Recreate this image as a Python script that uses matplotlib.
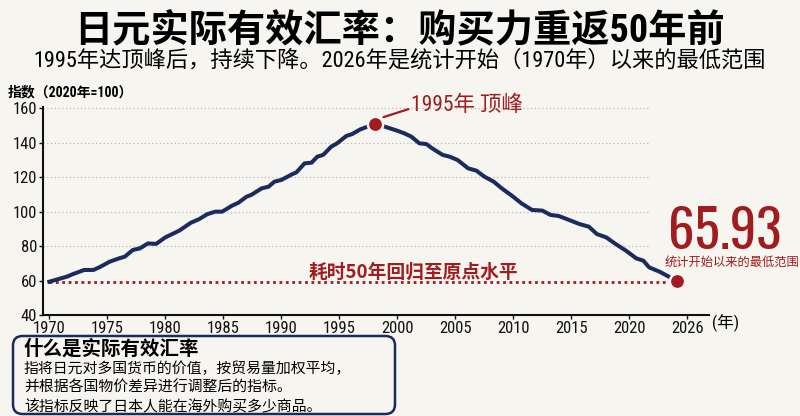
import matplotlib
matplotlib.use('Agg')
import matplotlib.pyplot as plt
from matplotlib import font_manager
from matplotlib.patches import FancyBboxPatch

installed = {f.name for f in font_manager.fontManager.ttflist}
narrow = next((n for n in ['Roboto Condensed', 'Archivo Narrow', 'PT Sans Narrow',
                           'Liberation Sans Narrow', 'Barlow Condensed', 'Fira Sans Condensed']
               if n in installed), 'Noto Sans CJK SC')
big_font = 'Oswald' if 'Oswald' in installed else narrow
plt.rcParams['font.family'] = [narrow, 'Noto Sans CJK SC', 'DejaVu Sans']

# data
rise_years = [1970.0, 1971.5, 1972.0, 1973.0, 1973.8, 1974.3, 1975.2, 1976.0, 1976.5, 1977.2,
              1977.8, 1978.5, 1979.2, 1980.0, 1981.2, 1982.2, 1982.9, 1983.6, 1984.3, 1984.9,
              1985.7, 1986.3, 1987.0, 1987.4, 1988.3, 1988.9, 1989.4, 1990.0, 1990.9, 1991.3,
              1992.0, 1992.6, 1993.1, 1993.6, 1994.3, 1994.8, 1995.6, 1996.1, 1996.8, 1998.1]
rise_values = [59.5, 62.4, 63.8, 66.3, 66.3, 67.8, 71.1, 73.0, 74.0, 77.9,
               78.8, 81.7, 81.4, 85.2, 89.1, 93.7, 95.7, 98.6, 100.1, 100.1,
               103.4, 105.3, 108.8, 109.8, 113.6, 114.6, 117.5, 118.5, 121.7, 122.9,
               128.1, 128.5, 132.0, 133.0, 137.8, 139.7, 144.0, 145.1, 147.8, 151.1]
fall_years = [1999.1, 2000.0, 2000.6, 2001.2, 2001.9, 2002.5, 2003.0, 2003.9, 2004.5, 2005.2,
              2006.1, 2006.8, 2007.5, 2008.3, 2009.0, 2009.9, 2010.7, 2011.6, 2012.5, 2013.2,
              2013.9, 2014.8, 2015.7, 2016.5, 2017.2, 2018.0, 2018.8, 2019.7, 2020.6, 2021.2,
              2021.7, 2022.6, 2023.4]
fall_values = [149.0, 147.0, 145.5, 143.6, 139.7, 139.3, 136.8, 133.0, 132.0, 130.0,
               125.2, 123.9, 120.4, 117.5, 113.6, 109.2, 104.9, 101.1, 100.7, 98.2,
               97.6, 95.3, 92.9, 91.4, 87.1, 85.2, 81.4, 77.5, 73.0, 71.7,
               67.8, 65.3, 62.4]
peak_year, peak_value = 1998.1, 151.1
last_year, last_value = 2024.1, 60.1
base_value = 59.5

x_ticks = [1970, 1975, 1980, 1985, 1990, 1995, 2000, 2005, 2010, 2015, 2020, 2025]
x_labels = ['1970', '1975', '1980', '1985', '1990', '1995', '2000', '2005', '2010', '2015', '2020', '2026']
y_ticks = [40, 60, 80, 100, 120, 140, 160]
grid_values = [80, 100, 120, 140, 160]

bg = '#f7f5ef'
navy = '#1c2b5e'
red = '#a01c20'
cjk = ['Noto Sans CJK SC', 'DejaVu Sans']

fig = plt.figure(figsize=(8, 4.16), dpi=100, facecolor=bg)
ax = fig.add_axes([0.0534, 0.242, 0.833, 0.5017], facecolor=bg)
ax.set_xlim(1969.43, 2026.87)
ax.set_ylim(40, 161)

ax.hlines(grid_values, 1969.43, 2021.6, colors='#b8b8b8', linestyles=(0, (1, 2)), linewidth=0.9, zorder=1)
ax.hlines(base_value, 1970, last_year, colors=red, linestyles=(0, (1, 1.3)), linewidth=2.0, zorder=2)

ax.plot(rise_years + fall_years, rise_values + fall_values, color=navy, linewidth=2.9,
        solid_joinstyle='round', zorder=3)
ax.plot([peak_year, last_year], [peak_value, last_value], 'o', color=red, markersize=11,
        markeredgecolor=bg, markeredgewidth=1.8, zorder=4, clip_on=False)

ax.annotate('1995年 顶峰', xy=(1998.8, 154.9), xytext=(2001.2, 161.9), color=red,
            fontsize=15.5, va='center', ha='left', annotation_clip=False,
            arrowprops=dict(arrowstyle='-', color=red, lw=1.6, shrinkA=0, shrinkB=0,
                            relpos=(0, 0.35)))
ax.text(2001.4, 65.3, '耗时50年回归至原点水平', color=red, fontsize=13.5, fontweight='bold',
        ha='center', va='center', family=cjk)
ax.text(2023.3, 78.6, '65.93', color=red, fontsize=38, fontweight='bold',
        ha='left', va='baseline', clip_on=False, family=[big_font])
ax.text(2023.0, 70.6, '统计开始以来的最低范围', color=red, fontsize=8.8,
        ha='left', va='center', clip_on=False, family=cjk)

ax.set_xticks(x_ticks)
ax.set_xticklabels(x_labels)
ax.set_yticks(y_ticks)
ax.tick_params(axis='both', labelsize=12, length=3, width=1, pad=1, colors='#111111')
for s in ['top', 'right']:
    ax.spines[s].set_visible(False)
for s in ['left', 'bottom']:
    ax.spines[s].set_linewidth(1.5)
    ax.spines[s].set_color('#111111')
ax.text(2028.3, 36.1, '(年)', fontsize=12, ha='center', va='center', clip_on=False)

fig.text(0.01, 0.779, '指数（2020年=100）', fontsize=10, fontweight='bold', va='center', ha='left')
fig.text(0.5, 1 - 31 / 416, '日元实际有效汇率：购买力重返50年前', fontsize=27.5, fontweight='bold',
         ha='center', va='center')
fig.text(0.5, 1 - 61 / 416, '1995年达顶峰后，持续下降。2026年是统计开始（1970年）以来的最低范围',
         fontsize=16, ha='center', va='center')

box = FancyBboxPatch((13 / 800, 2 / 416), 382 / 800, 78 / 416, transform=fig.transFigure,
                     boxstyle='round,pad=0,rounding_size=0.012', mutation_aspect=1.9,
                     facecolor=bg, edgecolor=navy, linewidth=1.8)
fig.patches.append(box)
fig.text(24 / 800, 1 - 349 / 416, '什么是实际有效汇率', fontsize=14, fontweight='bold', va='center', family=cjk)
fig.text(24 / 800, 1 - 369 / 416, '指将日元对多国货币的价值，按贸易量加权平均，', fontsize=10.7, va='center', family=cjk)
fig.text(24 / 800, 1 - 388 / 416, '并根据各国物价差异进行调整后的指标。', fontsize=10.7, va='center', family=cjk)
fig.text(24 / 800, 1 - 406 / 416, '该指标反映了日本人能在海外购买多少商品。', fontsize=10.7, va='center', family=cjk)

fig.savefig('out.png', dpi=100, facecolor=bg)
